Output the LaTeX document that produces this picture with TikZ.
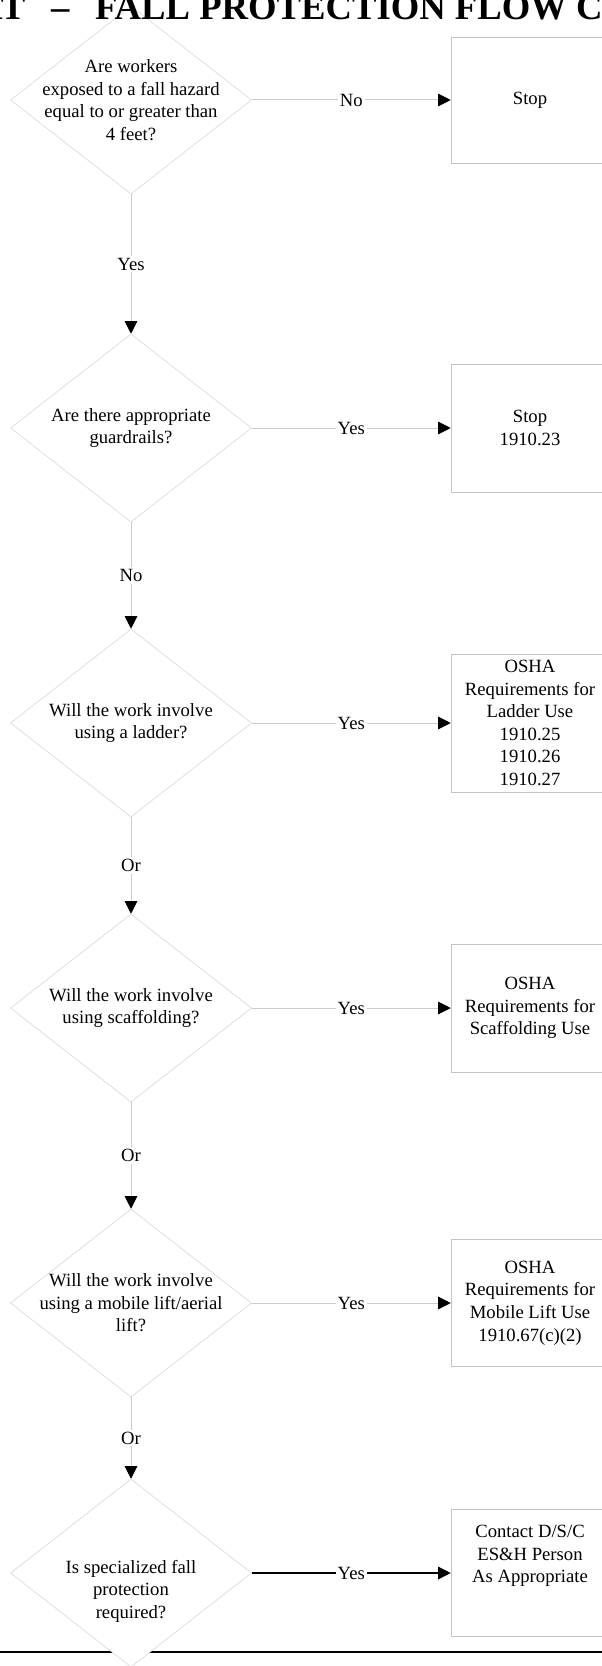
\documentclass[tikz,border=0pt]{standalone}
\usepackage{fontspec}
\setmainfont{Liberation Serif}
\usetikzlibrary{shapes.geometric,arrows.meta}

\definecolor{linie}{HTML}{CCCCCC}
\definecolor{rahmen}{HTML}{C4C4C4}
\definecolor{rautenrand}{HTML}{D4D4D4}

\begin{document}
\begin{tikzpicture}[x=0.75pt, y=-0.75pt,
    raute/.style={diamond, draw=rautenrand, fill=white, inner sep=0pt,
        minimum width=241*0.75pt, minimum height=188*0.75pt},
    kasten/.style={rectangle, draw=rahmen, fill=white, align=center,
        minimum width=158*0.75pt, font=\fontsize{14}{16.9}\selectfont},
    txt/.style={align=center, inner sep=0pt, font=\fontsize{14}{16.9}\selectfont},
    marke/.style={fill=white, inner sep=1.5pt, font=\fontsize{14}{16.9}\selectfont},
    pfeil/.style={draw=linie, line width=0.75pt,
        -{Triangle[length=9.5pt, width=9.5pt, color=black]}},
    titel/.style={inner sep=0pt, font=\fontsize{27.5}{30}\selectfont\bfseries}]

    % Seite (in Pixeln)
    \useasboundingbox (0,0) rectangle (602,1666);
    \clip (0,0) rectangle (602,1666);

    % Trennlinie unten
    \draw[line width=1.9pt] (0,1652) -- (602,1652);

    % Fragen: y-Mitte / Textversatz / Text
    \foreach \y/\dy/\txt [count=\i] in {
            100/0/{Are workers\\exposed to a fall hazard\\equal to or greater than\\4 feet?},
            428/0/{Are there appropriate\\guardrails?},
            723/0/{Will the work involve\\using a ladder?},
            1008/0/{Will the work involve\\using scaffolding?},
            1303/0/{Will the work involve\\using a mobile lift/aerial\\lift?},
            1573/18/{Is specialized fall\\protection\\required?}} {
        \node[raute] (q\i) at (131,\y) {};
        \node[txt] (t\i) at (131,\y+\dy) {\txt};
    }

    % Ergebnisse: y-Mitte / Höhe / Textversatz / Text
    \foreach \y/\h/\dy/\txt [count=\i] in {
            100/126/0/{Stop},
            428/128/0/{Stop\\1910.23},
            723/138/0/{OSHA\\Requirements for\\Ladder Use\\1910.25\\1910.26\\1910.27},
            1008/128/0/{OSHA\\Requirements for\\Scaffolding Use},
            1303/127/0/{OSHA\\Requirements for\\Mobile Lift Use\\1910.67(c)(2)},
            1573/127/-17/{Contact D/S/C\\ES\&H Person\\As Appropriate}} {
        \node[kasten, minimum height=\h*0.75pt] (b\i) at (530,\y) {};
        \node[txt] (s\i) at (530,\y+\dy) {\txt};
    }

    % Pfeile nach rechts
    \foreach \lbl [count=\i] in {No,Yes,Yes,Yes,Yes} {
        \draw[pfeil] (q\i.east) -- node[marke] (m\i) {\lbl} (b\i.west);
    }
    \draw[pfeil, draw=black, line width=0.9pt] (q6.east) -- node[marke] (m6) {Yes} (b6.west);

    % Pfeile nach unten
    \foreach \lbl [count=\i] in {Yes,No,Or,Or,Or} {
        \pgfmathtruncatemacro{\j}{\i+1}
        \draw[pfeil] (q\i.south) -- node[marke] (v\i) {\lbl} (q\j.north);
    }

    % Titel (oben abgeschnitten)
    \node[titel, anchor=base west] (titel) at (-106,20)
        {CHART\hspace{0.7em}–\hspace{0.7em}FALL PROTECTION FLOW CHART};
\end{tikzpicture}
\end{document}
